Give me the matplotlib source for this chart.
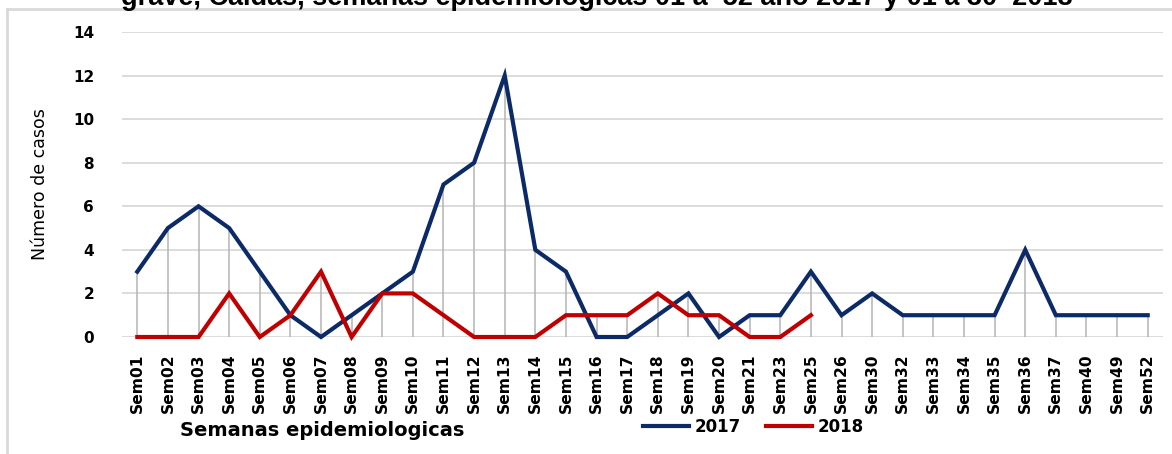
import numpy as np
import matplotlib.pyplot as plt

# semanas epidemiologicas (eje x)
semanas = ['Sem01', 'Sem02', 'Sem03', 'Sem04', 'Sem05', 'Sem06', 'Sem07', 'Sem08',
           'Sem09', 'Sem10', 'Sem11', 'Sem12', 'Sem13', 'Sem14', 'Sem15', 'Sem16',
           'Sem17', 'Sem18', 'Sem19', 'Sem20', 'Sem21', 'Sem23', 'Sem25', 'Sem26',
           'Sem30', 'Sem32', 'Sem33', 'Sem34', 'Sem35', 'Sem36', 'Sem37', 'Sem40',
           'Sem49', 'Sem52']

casos_2017 = [3, 5, 6, 5, 3, 1, 0, 1, 2, 3, 7, 8, 12, 4, 3, 0, 0, 1, 2, 0, 1, 1, 3,
              1, 2, 1, 1, 1, 1, 4, 1, 1, 1, 1]
# 2018 only goes up to Sem25
casos_2018 = [0, 0, 0, 2, 0, 1, 3, 0, 2, 2, 1, 0, 0, 0, 1, 1, 1, 2, 1, 1, 0, 0, 1]

titulo = 'grave, Caldas, semanas epidemiologicas 01 a  52 año 2017 y 01 a 30  2018'

W, H = 1172, 454
fig = plt.figure(figsize=(W / 100, H / 100), dpi=100)
ax = fig.add_axes([122 / W, 1 - 337 / H, (1163 - 122) / W, (337 - 32) / H])

x = np.arange(len(semanas))
x18 = x[:len(casos_2018)]

# drop lines (como en excel)
tops = np.array(casos_2017, dtype=float)
tops[:len(casos_2018)] = np.maximum(tops[:len(casos_2018)], casos_2018)
ax.vlines(x, 0, tops, color='#b4b4b4', lw=1.1, zorder=1)

l17, = ax.plot(x, casos_2017, color='#0c2a68', lw=3.0, zorder=3, clip_on=False,
               solid_joinstyle='miter', label='2017')
l18, = ax.plot(x18, casos_2018, color='#c00000', lw=3.0, zorder=4, clip_on=False,
               solid_joinstyle='miter', label='2018')

ax.set_xlim(-0.5, len(semanas) - 0.5)
ax.set_ylim(0, 14)
ax.set_yticks(range(0, 15, 2))
ax.grid(axis='y', color='#d9d9d9', lw=1.3, zorder=0)
ax.set_axisbelow(True)
for s in ax.spines.values():
    s.set_visible(False)
ax.tick_params(axis='both', length=0)
ax.tick_params(axis='y', pad=20, labelsize=11)
ax.set_yticklabels([str(v) for v in range(0, 15, 2)], fontweight='bold')

ax.set_xticks(x)
ax.set_xticklabels(semanas, rotation=90, fontsize=11.2, fontweight='bold')
ax.tick_params(axis='x', pad=12)

ax.set_ylabel('Número de casos', fontsize=12.5)
ax.yaxis.set_label_coords(-73 / (1163 - 122), 0.5)

fig.text(180 / W, 1 - 430 / H, 'Semanas epidemiologicas', fontsize=14,
         fontweight='bold', va='center', ha='left')

leg = fig.legend(handles=[l17, l18], loc='center', bbox_to_anchor=(753 / W, 1 - 427 / H),
                 ncol=2, frameon=False, handlelength=2.8, columnspacing=1.5,
                 handletextpad=0.3, prop={'weight': 'bold', 'size': 12})

# titulo cortado arriba
fig.text(597 / W, 1 - 5 / H, titulo, fontsize=19.5, fontweight='bold',
         ha='center', va='baseline', family='Liberation Sans')

# marco del grafico
fig.add_artist(plt.Line2D([7 / W, 1], [1 - 9 / H, 1 - 9 / H], color='#d9d9d9', lw=2))
fig.add_artist(plt.Line2D([7 / W, 7 / W], [0, 1 - 9 / H], color='#d9d9d9', lw=2))

fig.savefig('out.png', dpi=100)
